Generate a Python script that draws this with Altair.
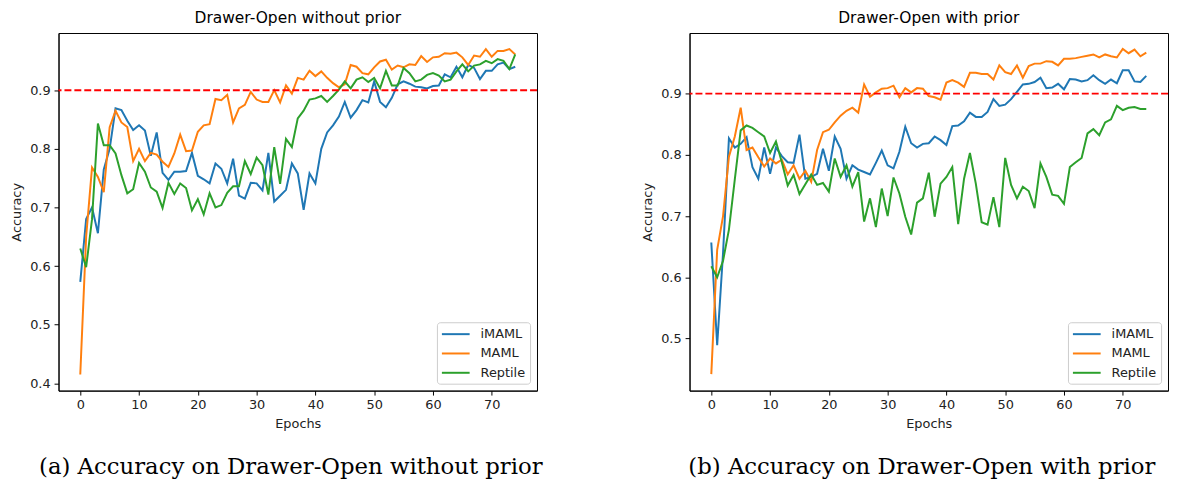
import altair as alt
import pandas as pd

epochs = list(range(75))
methods = ["iMAML", "MAML", "Reptile"]
colors = ["#1f77b4", "#ff7f0e", "#2ca02c"]
x_ticks = [0, 10, 20, 30, 40, 50, 60, 70]
y_ticks_a = [0.4, 0.5, 0.6, 0.7, 0.8, 0.9]
y_ticks_b = [0.5, 0.6, 0.7, 0.8, 0.9]
threshold = [0.9]

# (a) without prior
a_imaml = [0.573, 0.68, 0.70, 0.656, 0.765, 0.80, 0.869, 0.866, 0.848, 0.832,
           0.84, 0.831, 0.788, 0.828, 0.759, 0.747, 0.761, 0.761, 0.762, 0.793,
           0.754, 0.748, 0.741, 0.775, 0.766, 0.741, 0.783, 0.72, 0.715, 0.742,
           0.741, 0.729, 0.793, 0.71, 0.72, 0.73, 0.775, 0.758, 0.696, 0.758,
           0.741, 0.80, 0.828, 0.84, 0.855, 0.88, 0.853, 0.866, 0.883, 0.879,
           0.915, 0.88, 0.871, 0.887, 0.91, 0.915, 0.911, 0.906, 0.905, 0.903,
           0.907, 0.908, 0.927, 0.922, 0.94, 0.922, 0.943, 0.938, 0.919, 0.933,
           0.933, 0.944, 0.947, 0.936, 0.94]
a_maml = [0.415, 0.65, 0.768, 0.752, 0.726, 0.837, 0.865, 0.845, 0.837, 0.779,
          0.80, 0.779, 0.793, 0.79, 0.778, 0.769, 0.792, 0.824, 0.796, 0.797,
          0.829, 0.84, 0.842, 0.885, 0.883, 0.892, 0.845, 0.869, 0.875, 0.897,
          0.884, 0.88, 0.88, 0.90, 0.879, 0.908, 0.894, 0.921, 0.918, 0.933,
          0.924, 0.932, 0.921, 0.912, 0.905, 0.91, 0.943, 0.94, 0.929, 0.927,
          0.939, 0.949, 0.952, 0.935, 0.942, 0.939, 0.944, 0.943, 0.958, 0.948,
          0.956, 0.957, 0.963, 0.962, 0.964, 0.956, 0.943, 0.959, 0.957, 0.97,
          0.957, 0.967, 0.967, 0.97, 0.961]
a_reptile = [0.63, 0.598, 0.68, 0.843, 0.806, 0.806, 0.792, 0.755, 0.724, 0.731,
             0.776, 0.761, 0.734, 0.727, 0.699, 0.742, 0.723, 0.741, 0.733, 0.695,
             0.714, 0.688, 0.724, 0.70, 0.704, 0.725, 0.736, 0.736, 0.779, 0.757,
             0.785, 0.772, 0.722, 0.803, 0.74, 0.817, 0.803, 0.852, 0.865, 0.884,
             0.886, 0.89, 0.88, 0.89, 0.901, 0.915, 0.903, 0.918, 0.922, 0.914,
             0.921, 0.903, 0.933, 0.908, 0.908, 0.938, 0.929, 0.915, 0.918, 0.926,
             0.929, 0.925, 0.915, 0.918, 0.932, 0.944, 0.932, 0.942, 0.944, 0.95,
             0.946, 0.953, 0.95, 0.936, 0.961]

# (b) with prior
b_imaml = [0.657, 0.489, 0.64, 0.827, 0.812, 0.818, 0.829, 0.78, 0.761, 0.812,
           0.769, 0.812, 0.798, 0.788, 0.787, 0.833, 0.761, 0.764, 0.769, 0.81,
           0.774, 0.83, 0.81, 0.761, 0.783, 0.776, 0.772, 0.768, 0.787, 0.807,
           0.783, 0.778, 0.805, 0.846, 0.819, 0.812, 0.818, 0.819, 0.83, 0.824,
           0.816, 0.847, 0.848, 0.855, 0.869, 0.862, 0.862, 0.87, 0.891, 0.88,
           0.882, 0.891, 0.903, 0.915, 0.916, 0.919, 0.926, 0.909, 0.91, 0.916,
           0.907, 0.924, 0.923, 0.92, 0.922, 0.93, 0.922, 0.916, 0.923, 0.917,
           0.938, 0.938, 0.92, 0.919, 0.929]
b_maml = [0.442, 0.645, 0.70, 0.797, 0.83, 0.877, 0.808, 0.812, 0.796, 0.781,
          0.794, 0.786, 0.792, 0.768, 0.783, 0.761, 0.774, 0.756, 0.808, 0.837,
          0.841, 0.853, 0.864, 0.872, 0.877, 0.869, 0.915, 0.895, 0.902, 0.908,
          0.909, 0.913, 0.894, 0.909, 0.902, 0.909, 0.908, 0.896, 0.894, 0.89,
          0.918, 0.922, 0.918, 0.911, 0.934, 0.934, 0.932, 0.932, 0.923, 0.946,
          0.935, 0.932, 0.946, 0.926, 0.945, 0.949, 0.949, 0.953, 0.952, 0.946,
          0.957, 0.957, 0.958, 0.96, 0.962, 0.964, 0.959, 0.964, 0.961, 0.959,
          0.973, 0.966, 0.972, 0.961, 0.967]
b_reptile = [0.618, 0.60, 0.627, 0.678, 0.76, 0.84, 0.848, 0.844, 0.837, 0.83,
             0.803, 0.822, 0.788, 0.75, 0.767, 0.736, 0.752, 0.768, 0.751, 0.754,
             0.74, 0.794, 0.764, 0.783, 0.748, 0.772, 0.691, 0.729, 0.682, 0.745,
             0.70, 0.763, 0.737, 0.699, 0.67, 0.722, 0.729, 0.771, 0.699, 0.753,
             0.764, 0.78, 0.687, 0.761, 0.803, 0.753, 0.69, 0.686, 0.731, 0.682,
             0.795, 0.751, 0.729, 0.748, 0.741, 0.713, 0.786, 0.764, 0.735, 0.733,
             0.72, 0.78, 0.788, 0.795, 0.835, 0.842, 0.832, 0.853, 0.858, 0.88,
             0.873, 0.877, 0.878, 0.875, 0.875]

W, H = 483, 361
FONT = "DejaVu Sans"


def panel(title, caption, imaml, maml, reptile, ydomain, yticks):
    rows = []
    for name, vals in zip(methods, [imaml, maml, reptile]):
        for e, v in zip(epochs, vals):
            rows.append({"epoch": e, "acc": v, "method": name})
    df = pd.DataFrame(rows)

    xenc = alt.X("epoch:Q", title="Epochs",
                 scale=alt.Scale(domain=[-3.7, 77.7], nice=False, zero=False),
                 axis=alt.Axis(values=x_ticks, format="d"))
    yenc = alt.Y("acc:Q", title="Accuracy",
                 scale=alt.Scale(domain=ydomain, nice=False, zero=False),
                 axis=alt.Axis(values=yticks, format=".1f"))

    lines = alt.Chart(df).mark_line(strokeWidth=2, clip=True).encode(
        x=xenc,
        y=yenc,
        color=alt.Color(
            "method:N",
            scale=alt.Scale(domain=methods, range=colors),
            legend=alt.Legend(
                title=None, orient="bottom-right", offset=7,
                symbolType="M-1,0H3", symbolSize=196, symbolStrokeWidth=2,
                symbolFillColor="transparent",
                labelFont=FONT, labelFontSize=13, labelColor="#222",
                labelOffset=24, padding=4, rowPadding=4.5,
                fillColor="rgba(255,255,255,0.8)", strokeColor="#cccccc",
                cornerRadius=3,
            ),
        ),
        order="epoch:Q",
    )

    rule = alt.Chart(pd.DataFrame({"acc": threshold})).mark_rule(
        color="red", strokeDash=[7, 3], strokeWidth=2
    ).encode(y=alt.Y("acc:Q", title="Accuracy"))

    cap = alt.Chart(pd.DataFrame({"t": [caption]})).mark_text(
        font="DejaVu Serif", fontSize=23, align="center", baseline="alphabetic",
        color="black"
    ).encode(x=alt.value(W / 2 - 7), y=alt.value(445), text="t:N")

    return alt.layer(lines, rule, cap).properties(
        width=W, height=H,
        title=alt.TitleParams(title, font=FONT, fontSize=15.6, fontWeight="normal",
                              color="black", offset=6),
    )


left = panel("Drawer-Open without prior", "(a) Accuracy on Drawer-Open without prior",
             a_imaml, a_maml, a_reptile, [0.3875, 0.9975], y_ticks_a)
right = panel("Drawer-Open with prior", "(b) Accuracy on Drawer-Open with prior",
              b_imaml, b_maml, b_reptile, [0.415, 0.999], y_ticks_b)

chart = alt.hconcat(left, right, spacing=154, bounds="flush").resolve_scale(
    color="independent"
).resolve_legend(color="independent").properties(
    padding={"left": 2, "top": 0, "right": 0, "bottom": 0}
).configure_axis(
    labelFont=FONT, labelFontSize=13, labelColor="#222",
    titleFont=FONT, titleFontSize=13, titleFontWeight="normal", titleColor="#222",
    tickSize=4.5, labelPadding=4, titlePadding=6, grid=False,
    domainColor="black", tickColor="black", domainWidth=1, tickWidth=1,
).configure_view(stroke="black", strokeWidth=1)

chart.save("out.html", embed_options={"renderer": "svg", "actions": False})
